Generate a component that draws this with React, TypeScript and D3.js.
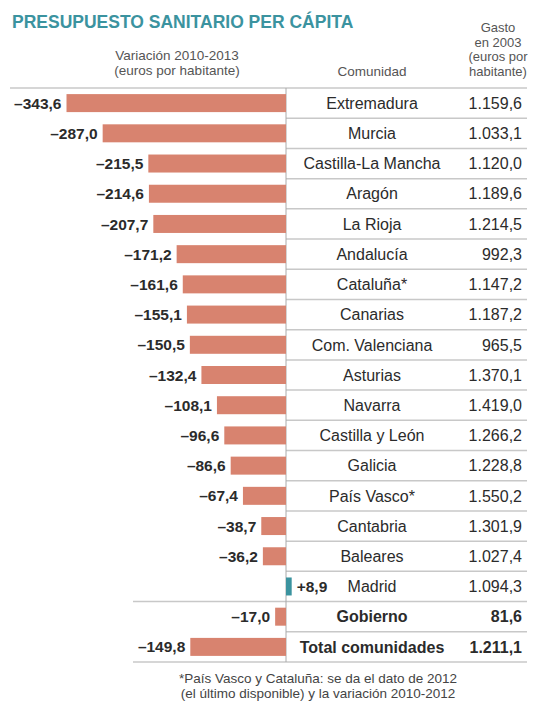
import React from "react";
import * as d3 from "d3";

// Datos
const comunidades = [
  "Extremadura", "Murcia", "Castilla-La Mancha", "Aragón", "La Rioja", "Andalucía",
  "Cataluña*", "Canarias", "Com. Valenciana", "Asturias", "Navarra", "Castilla y León",
  "Galicia", "País Vasco*", "Cantabria", "Baleares", "Madrid", "Gobierno", "Total comunidades",
];
const variacion = [
  -343.6, -287.0, -215.5, -214.6, -207.7, -171.2, -161.6, -155.1, -150.5, -132.4,
  -108.1, -96.6, -86.6, -67.4, -38.7, -36.2, 8.9, -17.0, -149.8,
];
const gasto = [
  1159.6, 1033.1, 1120.0, 1189.6, 1214.5, 992.3, 1147.2, 1187.2, 965.5, 1370.1,
  1419.0, 1266.2, 1228.8, 1550.2, 1301.9, 1027.4, 1094.3, 81.6, 1211.1,
];
const filasNegrita = ["Gobierno", "Total comunidades"];
const cabeceraVariacion = ["Variación 2010-2013", "(euros por habitante)"];
const cabeceraGasto = ["Gasto", "en 2003", "(euros por", "habitante)"];
const nota = [
  "*País Vasco y Cataluña: se da el dato de 2012",
  "(el último disponible) y la variación 2010-2012",
];

const width = 533;
const height = 704;
const teal = "#3b939f";
const salmon = "#d8836f";
const font = "'Liberation Sans', Arial, sans-serif";

const es = d3.formatLocale({
  decimal: ",",
  thousands: ".",
  grouping: [3],
  currency: ["", " €"],
  minus: "\u2013",
});
const fmtVar = (v: number) => (v > 0 ? es.format("+.1f")(v) : es.format(".1f")(v));
const fmtGasto = es.format(",.1f");

export default function App() {
  const zeroX = 286;
  const x = d3.scaleLinear().domain([-343.6, 0]).range([66.5, zeroX]);
  const y = d3.scaleBand().domain(comunidades).range([88, 662]).padding(0);
  const bw = y.bandwidth();
  const barH = 18;
  const nameX = 372;
  const valX = 522;
  const rightEnd = 527;

  return (
    <div style={{ position: "absolute", left: 0, top: 0, background: "#fff" }}>
      <svg width={width} height={height} style={{ display: "block" }} fontFamily={font}>
        <rect width={width} height={height} fill="#fff" />
        <text x={12} y={28} fontSize={17.5} fontWeight="bold" fill={teal}>
          PRESUPUESTO SANITARIO PER CÁPITA
        </text>

        {/* cabeceras */}
        <g fill="#555" fontSize={13.5} textAnchor="middle">
          {cabeceraVariacion.map((t, i) => (
            <text key={t} x={177} y={60 + i * 15}>{t}</text>
          ))}
          <text x={nameX} y={76}>Comunidad</text>
        </g>
        <g fill="#555" fontSize={13} textAnchor="middle">
          {cabeceraGasto.map((t, i) => (
            <text key={t} x={498} y={32 + i * 14.5}>{t}</text>
          ))}
        </g>

        {/* líneas */}
        <g stroke="#c8c8c8" strokeWidth={1.5}>
          <line x1={10} x2={rightEnd} y1={88} y2={88} />
          {comunidades.map((c) => {
            const yy = (y(c) as number) + bw;
            const full = c === "Madrid" || c === "Total comunidades";
            return <line key={c} x1={full ? 133 : zeroX} x2={rightEnd} y1={yy} y2={yy} />;
          })}
          <line x1={zeroX} x2={zeroX} y1={88} y2={662} stroke="#aaa" strokeWidth={1} />
        </g>

        {/* barras y filas */}
        {comunidades.map((c, i) => {
          const v = variacion[i];
          const cy = (y(c) as number) + bw / 2;
          const bold = filasNegrita.includes(c);
          const x0 = Math.min(x(v), x(0));
          const w = Math.abs(x(v) - x(0));
          return (
            <g key={c}>
              <rect x={x0} y={cy - barH / 2} width={w} height={barH} fill={v > 0 ? teal : salmon} />
              <text
                x={v > 0 ? x(v) + 5 : x(v) - 5}
                y={cy}
                dy="0.36em"
                textAnchor={v > 0 ? "start" : "end"}
                fontSize={15.5}
                fontWeight="bold"
                fill="#2b2b2b"
              >
                {fmtVar(v)}
              </text>
              <text
                x={nameX}
                y={cy}
                dy="0.36em"
                textAnchor="middle"
                fontSize={16}
                fontWeight={bold ? "bold" : "normal"}
                fill="#2b2b2b"
              >
                {c}
              </text>
              <text
                x={valX}
                y={cy}
                dy="0.36em"
                textAnchor="end"
                fontSize={16}
                fontWeight={bold ? "bold" : "normal"}
                fill="#2b2b2b"
              >
                {fmtGasto(gasto[i])}
              </text>
            </g>
          );
        })}

        {/* nota */}
        <g fill="#444" fontSize={13.5} textAnchor="middle">
          {nota.map((t, i) => (
            <text key={t} x={318} y={683 + i * 15}>{t}</text>
          ))}
        </g>
      </svg>
    </div>
  );
}
